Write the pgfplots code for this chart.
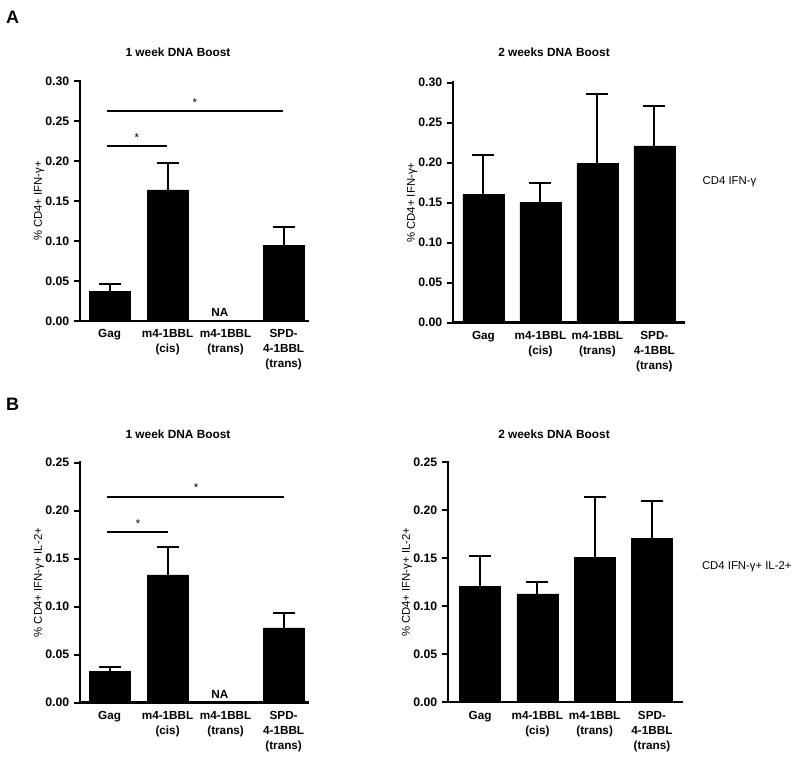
\documentclass[border=0pt]{standalone}
\usepackage{pgfplots}
\pgfplotsset{compat=1.18}
\usepackage{fontspec}
\setmainfont{Liberation Sans}
\newcommand{\tickfont}{\fontsize{9.2}{10}\selectfont\bfseries}
\newcommand{\xtfont}{\fontsize{8.8}{11.25}\selectfont\bfseries}
\newcommand{\titlefont}{\fontsize{8.9}{10}\selectfont\bfseries}
\newcommand{\labfont}{\fontsize{8.5}{10}\selectfont}
\pgfplotsset{
  prism/.style={
    scale only axis,
    height=180pt,
    ymin=0,
    axis x line=bottom, axis y line=left,
    axis line style={-, line width=1.8pt, line cap=rect},
    ybar, bar width=30.75pt,
    xtick={0,1,2,3},
    xticklabels={Gag,{m4-1BBL\\(cis)},{m4-1BBL\\(trans)},{SPD-\\4-1BBL\\(trans)}},
    x tick label style={align=center, font=\xtfont, yshift=1.5pt},
    xtick style={draw=none},
    y tick label style={font=\tickfont},
    ytick style={line width=1.5pt, black},
    tick align=outside, major tick length=4.5pt,
    /pgf/number format/.cd, fixed, fixed zerofill, precision=2, assume math mode=true,
    /pgfplots/.cd,
    ylabel style={font=\labfont, yshift=-6pt},
    error bars/y dir=plus, error bars/y explicit,
    error bars/error bar style={line width=1.5pt, black},
    error bars/error mark options={rotate=90, line width=1.5pt, mark size=8.25pt, black},
  },
}
\begin{document}
\begin{tikzpicture}
\path[use as bounding box] (0,0) rectangle (600pt,-567.75pt);

% Panel labels and titles
\node[font=\fontsize{13.5}{13.5}\selectfont\bfseries] at (9.5pt,-13pt) {A};
\node[font=\fontsize{13.5}{13.5}\selectfont\bfseries] at (9.5pt,-303.5pt) {B};
\node[font=\titlefont] at (133.5pt,-39pt) {1 week DNA Boost};
\node[font=\titlefont] at (415.5pt,-39.5pt) {2 weeks DNA Boost};
\node[font=\titlefont] at (133.5pt,-325.5pt) {1 week DNA Boost};
\node[font=\titlefont] at (415.5pt,-325.5pt) {2 weeks DNA Boost};
\node[font=\labfont, anchor=west] at (523.5pt,-136.5pt) {CD4 IFN-γ};
\node[font=\labfont, anchor=west] at (523pt,-425pt) {CD4 IFN-γ+ IL-2+};

% A left
\begin{axis}[prism, at={(60pt,-240.75pt)}, anchor=south west,
  width=171pt, xmin=-0.51, xmax=3.42, ymax=0.30,
  ytick={0,0.05,0.10,0.15,0.20,0.25,0.30},
  ylabel={\% CD4+ IFN-γ+}]
\addplot[fill=black, draw=black] table[x=x, y=y, y error=e] {
x y e
0 0.0375 0.0085
1 0.164 0.034
3 0.095 0.022
};
\draw[line width=1.5pt] (axis cs:-0.04,0.219) -- (axis cs:0.99,0.219);
\draw[line width=1.5pt] (axis cs:-0.04,0.2625) -- (axis cs:2.99,0.2625);
\node[font=\labfont] at (axis cs:0.47,0.229) {*};
\node[font=\labfont] at (axis cs:1.47,0.273) {*};
\node[font=\xtfont] at (axis cs:1.9,0.0105) {NA};
\end{axis}

% A right
\begin{axis}[prism, at={(339.75pt,-242pt)}, anchor=south west,
  width=173.25pt, xmin=-0.535, xmax=3.52, ymax=0.30,
  ytick={0,0.05,0.10,0.15,0.20,0.25,0.30},
  ylabel={\% CD4+ IFN-γ+}]
\addplot[fill=black, draw=black] table[x=x, y=y, y error=e] {
x y e
0 0.1605 0.049
1 0.150 0.024
2 0.199 0.087
3 0.221 0.050
};
\end{axis}

% B left
\begin{axis}[prism, at={(60pt,-527pt)}, anchor=south west,
  width=171pt, xmin=-0.51, xmax=3.42, ymax=0.25,
  ytick={0,0.05,0.10,0.15,0.20,0.25},
  ylabel={\% CD4+ IFN-γ+ IL-2+}]
\addplot[fill=black, draw=black] table[x=x, y=y, y error=e] {
x y e
0 0.0323 0.0052
1 0.133 0.029
3 0.078 0.015
};
\draw[line width=1.5pt] (axis cs:-0.04,0.1775) -- (axis cs:1.0,0.1775);
\draw[line width=1.5pt] (axis cs:-0.04,0.2146) -- (axis cs:3.0,0.2146);
\node[font=\labfont] at (axis cs:0.49,0.187) {*};
\node[font=\labfont] at (axis cs:1.49,0.224) {*};
\node[font=\xtfont] at (axis cs:1.9,0.0085) {NA};
\end{axis}

% B right
\begin{axis}[prism, at={(336pt,-526.7pt)}, anchor=south west,
  width=175.3pt, xmin=-0.56, xmax=3.52, ymax=0.25,
  ytick={0,0.05,0.10,0.15,0.20,0.25},
  ylabel={\% CD4+ IFN-γ+ IL-2+}]
\addplot[fill=black, draw=black] table[x=x, y=y, y error=e] {
x y e
0 0.1204 0.032
1 0.1128 0.0128
2 0.151 0.0625
3 0.1708 0.039
};
\end{axis}
\end{tikzpicture}
\end{document}
